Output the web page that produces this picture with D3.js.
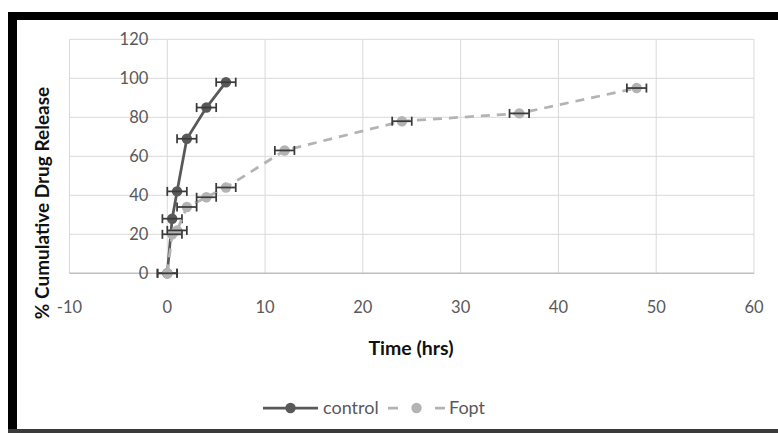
<!DOCTYPE html>
<html>
<head>
<meta charset="utf-8">
<script src="https://cdn.jsdelivr.net/npm/d3@7"></script>
<style>
html,body{margin:0;padding:0;background:#fff;}
svg{display:block;font-family:Lato,"Open Sans",sans-serif;}
</style>
</head>
<body>
<svg id="chart" width="778" height="433"></svg>
<script>
// ---- data ----
const controlTime = [0, 0.5, 1, 2, 4, 6];
const controlRelease = [0, 28, 42, 69, 85, 98];
const controlErr = [1, 1, 1, 1, 1, 1];
const foptTime = [0, 0.5, 1, 2, 4, 6, 12, 24, 36, 48];
const foptRelease = [0, 20, 22, 34, 39, 44, 63, 78, 82, 95];
const foptErr = [1, 1, 1, 1, 1, 1, 1, 1, 1, 1];
const xTicks = [-10, 0, 10, 20, 30, 40, 50, 60];
const yTicks = [0, 20, 40, 60, 80, 100, 120];
const seriesNames = ["control", "Fopt"];

const svg = d3.select("#chart");
const W = 778, H = 433;

// frame
svg.append("rect").attr("x", 8).attr("y", 12).attr("width", W - 8).attr("height", 8).attr("fill", "#000");
svg.append("rect").attr("x", 8).attr("y", 12).attr("width", 9).attr("height", H - 12).attr("fill", "#000");
svg.append("rect").attr("x", 8).attr("y", 429).attr("width", W - 8).attr("height", 4).attr("fill", "#3a3a3a");

const x = d3.scaleLinear().domain([-10, 60]).range([69.5, 754]);
const y = d3.scaleLinear().domain([0, 120]).range([273.3, 39.3]);

// gridlines
const g = svg.append("g");
g.selectAll("line.vg").data(xTicks).enter().append("line")
  .attr("x1", d => x(d)).attr("x2", d => x(d))
  .attr("y1", y(0)).attr("y2", y(120))
  .attr("stroke", "#d9d9d9").attr("stroke-width", 1);
g.selectAll("line.hg").data(yTicks).enter().append("line")
  .attr("x1", x(-10)).attr("x2", x(60))
  .attr("y1", d => y(d)).attr("y2", d => y(d))
  .attr("stroke", d => d === 0 ? "#bfbfbf" : "#d9d9d9").attr("stroke-width", d => d === 0 ? 1.5 : 1);

// y axis labels (at x=0)
svg.selectAll("text.yt").data(yTicks).enter().append("text")
  .attr("x", x(0) - 19).attr("y", d => y(d)).attr("dy", "0.36em")
  .attr("text-anchor", "end").attr("fill", "#595959").attr("font-size", 16.5)
  .text(d => d);
// x axis labels
svg.selectAll("text.xt").data(xTicks).enter().append("text")
  .attr("x", d => x(d)).attr("y", 307).attr("dy", "0.36em")
  .attr("text-anchor", "middle").attr("fill", "#595959").attr("font-size", 16.5)
  .text(d => d);

// titles
svg.append("text").attr("x", 411).attr("y", 348).attr("dy", "0.36em")
  .attr("text-anchor", "middle").attr("font-weight", "bold").attr("font-size", 19.5)
  .attr("fill", "#111").text("Time (hrs)");
svg.append("text").attr("transform", "translate(42,203) rotate(-90)").attr("dy", "0.36em")
  .attr("text-anchor", "middle").attr("font-weight", "bold").attr("font-size", 19)
  .attr("fill", "#111").text("% Cumulative Drug Release");

const line = d3.line().x(d => x(d[0])).y(d => y(d[1]));
const series = [
  {name: seriesNames[0], t: controlTime, v: controlRelease, e: controlErr, color: "#595959", dash: null},
  {name: seriesNames[1], t: foptTime, v: foptRelease, e: foptErr, color: "#b3b3b3", dash: "9,7"}
];

series.forEach(s => {
  const pts = s.t.map((t, i) => [t, s.v[i], s.e[i]]);
  const sg = svg.append("g");
  sg.append("path").datum(pts).attr("d", line).attr("fill", "none")
    .attr("stroke", s.color).attr("stroke-width", 2.75)
    .attr("stroke-dasharray", s.dash);
  sg.selectAll("circle").data(pts).enter().append("circle")
    .attr("cx", d => x(d[0])).attr("cy", d => y(d[1])).attr("r", 5.2)
    .attr("fill", s.color);
  const eb = sg.selectAll("g.eb").data(pts).enter().append("g");
  eb.append("line").attr("x1", d => x(d[0] - d[2])).attr("x2", d => x(d[0] + d[2]))
    .attr("y1", d => y(d[1])).attr("y2", d => y(d[1]))
    .attr("stroke", "#3a3a3a").attr("stroke-width", 1.75);
  [-1, 1].forEach(sgn => {
    eb.append("line").attr("x1", d => x(d[0] + sgn * d[2])).attr("x2", d => x(d[0] + sgn * d[2]))
      .attr("y1", d => y(d[1]) - 4.5).attr("y2", d => y(d[1]) + 4.5)
      .attr("stroke", "#3a3a3a").attr("stroke-width", 1.75);
  });
});

// legend
const lg = svg.append("g");
const legY = 408;
const legItems = [
  {s: series[0], x1: 263, x2: 318, tx: 323},
  {s: series[1], x1: 388, x2: 445, tx: 449}
];
legItems.forEach(it => {
  lg.append("line").attr("x1", it.x1).attr("x2", it.x2).attr("y1", legY).attr("y2", legY)
    .attr("stroke", it.s.color).attr("stroke-width", 2.75)
    .attr("stroke-dasharray", it.s.dash ? "10,37" : null);
  lg.append("circle").attr("cx", (it.x1 + it.x2) / 2).attr("cy", legY).attr("r", 5.2).attr("fill", it.s.color);
  lg.append("text").attr("x", it.tx).attr("y", legY).attr("dy", "0.36em")
    .attr("fill", "#595959").attr("font-size", 18).text(it.s.name);
});
</script>
</body>
</html>
